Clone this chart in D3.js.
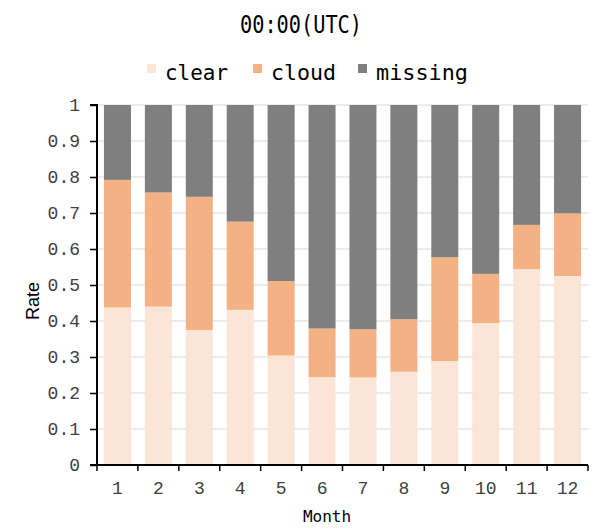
<!DOCTYPE html>
<html>
<head>
<meta charset="utf-8">
<script src="https://cdn.jsdelivr.net/npm/d3@7"></script>
<style>
  html, body { margin: 0; padding: 0; background: #fff; }
  svg { display: block; }
</style>
</head>
<body>
<svg id="chart" width="607" height="531"></svg>
<script>
// ---- data ----
const months = ["1","2","3","4","5","6","7","8","9","10","11","12"];
const clear  = [0.438,0.440,0.375,0.431,0.304,0.244,0.243,0.259,0.289,0.394,0.544,0.525];
const cloud  = [0.354,0.317,0.370,0.245,0.207,0.135,0.134,0.146,0.288,0.137,0.123,0.174];
const missing = months.map((m, i) => +(1 - clear[i] - cloud[i]).toFixed(3));
const seriesNames = ["clear","cloud","missing"];
const seriesColors = ["#FBE5D6","#F4B183","#7F7F7F"];
const yTickValues = [0,0.1,0.2,0.3,0.4,0.5,0.6,0.7,0.8,0.9,1];
const titleText = "00:00(UTC)";
const xTitle = "Month";
const yTitle = "Rate";

(function () {
// ---- layout ----
const svg = d3.select("#chart");
const mLeft = 97, mRight = 588, mTop = 105, mBottom = 465;

const rows = months.map((m, i) => ({ month: m, clear: clear[i], cloud: cloud[i], missing: missing[i] }));
const stack = d3.stack().keys(seriesNames)(rows);

const x = d3.scaleBand().domain(months).range([mLeft, mRight]).paddingInner(0.34).paddingOuter(0.17);
const y = d3.scaleLinear().domain([0, 1]).range([mBottom, mTop]);
const color = d3.scaleOrdinal().domain(seriesNames).range(seriesColors);

// gridlines
svg.append("g")
  .selectAll("line")
  .data(yTickValues.filter(v => v > 0))
  .join("line")
  .attr("x1", mLeft).attr("x2", mRight)
  .attr("y1", d => y(d)).attr("y2", d => y(d))
  .attr("stroke", "#d9d9d9").attr("stroke-width", 1);

// bars
svg.append("g")
  .selectAll("g")
  .data(stack)
  .join("g")
  .attr("fill", d => color(d.key))
  .selectAll("rect")
  .data(d => d)
  .join("rect")
  .attr("x", d => x(d.data.month))
  .attr("width", x.bandwidth())
  .attr("y", d => y(d[1]))
  .attr("height", d => y(d[0]) - y(d[1]));

// y axis
const yAxis = svg.append("g")
  .attr("transform", `translate(${mLeft},0)`)
  .call(d3.axisLeft(y).tickValues(yTickValues).tickSize(7).tickPadding(10).tickFormat(d3.format("~g")));
yAxis.select(".domain").attr("stroke", "#000").attr("stroke-width", 2).attr("d", `M-7,${mTop}H0V${mBottom}`);
yAxis.selectAll(".tick line").attr("stroke", "#000").attr("stroke-width", 1.5);
yAxis.selectAll(".tick text")
  .attr("font-family", "'Liberation Mono', 'DejaVu Sans Mono', monospace")
  .attr("font-size", 18).attr("fill", "#404040");

// x axis: labels at band centres, ticks at band boundaries
const xAxis = svg.append("g")
  .attr("transform", `translate(0,${mBottom})`)
  .call(d3.axisBottom(x).tickSize(0).tickPadding(16));
xAxis.select(".domain").remove();
xAxis.selectAll(".tick text")
  .attr("font-family", "'Liberation Mono', 'DejaVu Sans Mono', monospace")
  .attr("font-size", 18).attr("fill", "#404040");

const boundaries = d3.range(months.length + 1).map(i => x.range()[0] + i * x.step());
svg.append("line")
  .attr("x1", mLeft - 7).attr("x2", mRight)
  .attr("y1", mBottom).attr("y2", mBottom)
  .attr("stroke", "#000").attr("stroke-width", 2);
svg.append("g")
  .selectAll("line")
  .data(boundaries)
  .join("line")
  .attr("x1", d => d).attr("x2", d => d)
  .attr("y1", mBottom).attr("y2", mBottom + 6)
  .attr("stroke", "#000").attr("stroke-width", 1.5);

// title
svg.append("text")
  .attr("x", 301).attr("y", 33)
  .attr("text-anchor", "middle")
  .attr("font-family", "'DejaVu Sans Mono', monospace")
  .attr("font-size", 24)
  .attr("textLength", 122).attr("lengthAdjust", "spacingAndGlyphs")
  .attr("fill", "#000")
  .text(titleText);

// legend
const legendX = [147, 253, 358];
const legendTextW = [63, 65, 92];
const lg = svg.append("g").selectAll("g").data(seriesNames).join("g")
  .attr("transform", (d, i) => `translate(${legendX[i]},0)`);
lg.append("rect").attr("x", 0).attr("y", 64).attr("width", 9).attr("height", 9)
  .attr("fill", d => color(d));
lg.append("text")
  .attr("x", 18).attr("y", 80)
  .attr("font-family", "'DejaVu Sans Mono', monospace")
  .attr("font-size", 22)
  .attr("textLength", (d, i) => legendTextW[i]).attr("lengthAdjust", "spacingAndGlyphs")
  .attr("fill", "#000")
  .text(d => d);

// axis titles
svg.append("text")
  .attr("x", 327).attr("y", 522)
  .attr("text-anchor", "middle")
  .attr("font-family", "'DejaVu Sans Mono', monospace")
  .attr("font-size", 16)
  .attr("fill", "#000")
  .text(xTitle);

svg.append("text")
  .attr("transform", `translate(39,301) rotate(-90)`)
  .attr("text-anchor", "middle")
  .attr("font-family", "'Liberation Sans', Arial, sans-serif")
  .attr("font-size", 18)
  .attr("fill", "#000")
  .text(yTitle);
})();
</script>
</body>
</html>
